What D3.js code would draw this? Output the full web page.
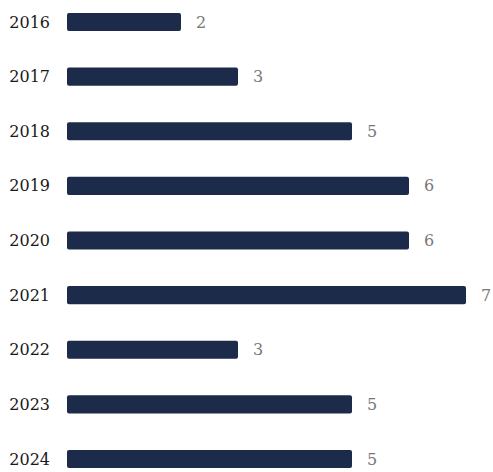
<!DOCTYPE html>
<html>
<head>
<meta charset="utf-8">
<script src="https://cdn.jsdelivr.net/npm/d3@7"></script>
<style>
  body { margin: 0; background: #fff; }
  svg text { font-family: "DejaVu Serif", "Liberation Serif", serif; }
</style>
</head>
<body>
<script>
const width = 493;
const height = 472;

const years = ['2016', '2017', '2018', '2019', '2020', '2021', '2022', '2023', '2024'];
const counts = [2, 3, 5, 6, 6, 7, 3, 5, 5];

const data = years.map((y, i) => ({ year: y, value: counts[i] }));

const x = d3.scaleLinear().domain([0, 7]).range([67, 466]);
const y = d3.scaleBand().domain(years).range([13, 468]).paddingInner(0.67).paddingOuter(0);

const svg = d3.select('body')
  .append('svg')
  .attr('width', width)
  .attr('height', height);

svg.selectAll('.bar')
  .data(data)
  .join('rect')
    .attr('class', 'bar')
    .attr('x', x(0))
    .attr('y', d => y(d.year))
    .attr('width', d => x(d.value) - x(0))
    .attr('height', y.bandwidth())
    .attr('rx', 2)
    .attr('fill', '#1c2b4a');

svg.selectAll('.year')
  .data(data)
  .join('text')
    .attr('class', 'year')
    .attr('x', 50)
    .attr('y', d => y(d.year) + y.bandwidth() / 2)
    .attr('dy', '0.35em')
    .attr('text-anchor', 'end')
    .attr('font-size', 16)
    .attr('fill', '#1a1a1a')
    .text(d => d.year);

svg.selectAll('.val')
  .data(data)
  .join('text')
    .attr('class', 'val')
    .attr('x', d => x(d.value) + 15)
    .attr('y', d => y(d.year) + y.bandwidth() / 2)
    .attr('dy', '0.35em')
    .attr('font-size', 16)
    .attr('fill', '#777')
    .text(d => d.value);
</script>
</body>
</html>
